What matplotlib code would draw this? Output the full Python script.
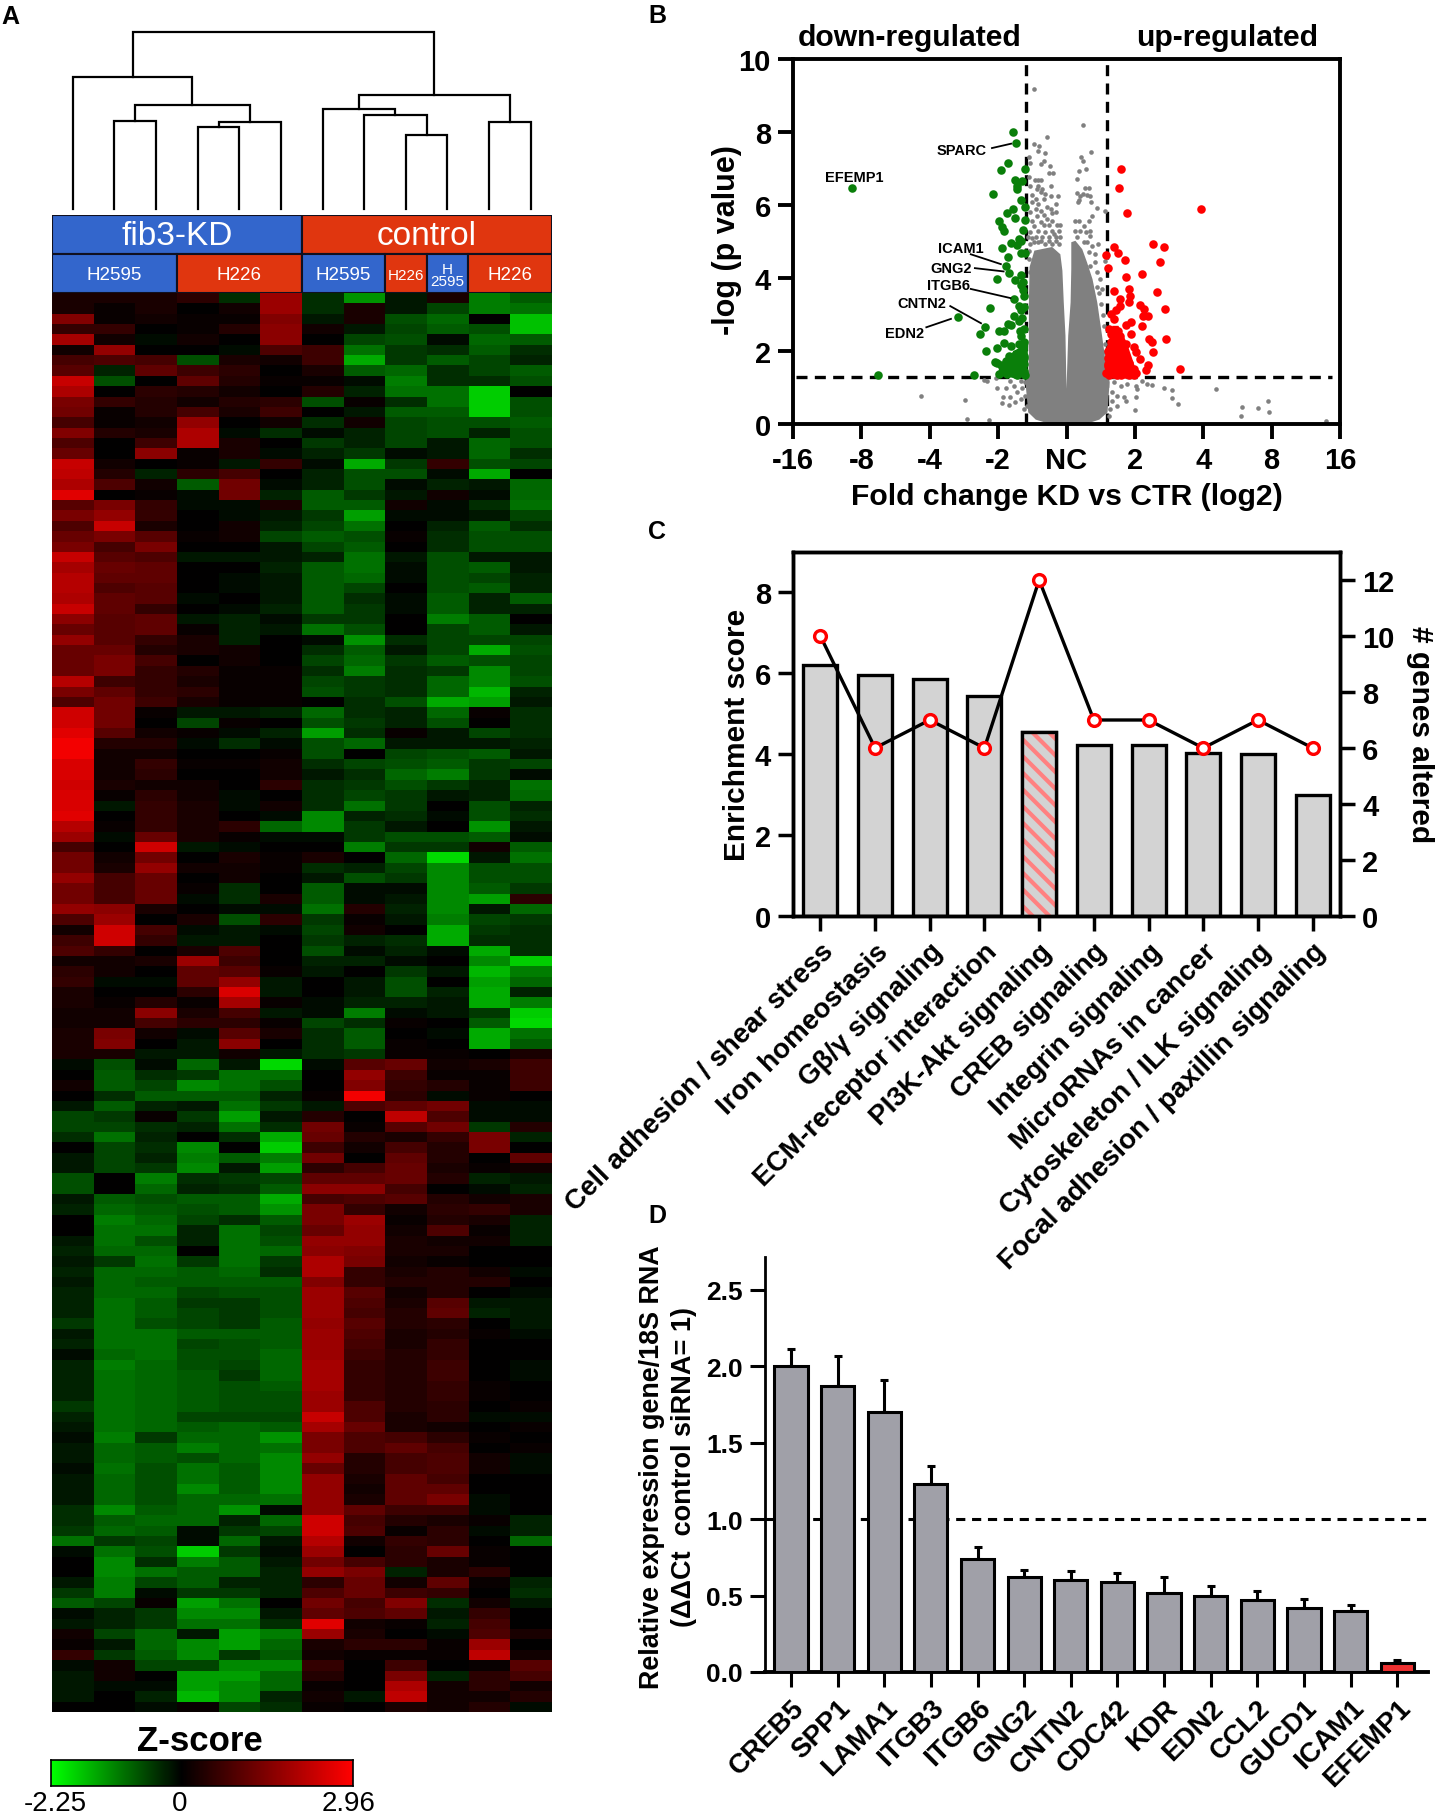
#!/usr/bin/env python3

import numpy as np
import matplotlib
matplotlib.use('Agg')
import matplotlib.pyplot as plt
from matplotlib.colors import LinearSegmentedColormap, TwoSlopeNorm

plt.rcParams['font.family'] = ['Liberation Sans', 'DejaVu Sans']
plt.rcParams['hatch.linewidth'] = 3.0

W, H = 1438, 1815

# ---- panel A data ----
# heatmap values, z-score x 10, one row per gene, read by eye
heat_rows = [
    [3,3,3,5,-4,18,-4,-13,-2,3,-11,-8],
    [3,1,3,0,2,18,-4,3,-2,-6,-11,-10],
    [15,1,2,1,1,15,-2,3,-7,-9,0,-17],
    [6,6,0,1,4,16,2,-2,-6,-8,-7,-17],
    [19,2,-1,2,0,16,0,-6,-7,-1,-9,-8],
    [2,17,0,0,-1,9,7,-10,-5,-4,-8,-4],
    [8,9,8,-7,3,2,7,-15,-5,-8,-6,-3],
    [10,-3,11,7,5,0,3,-8,-9,-4,-6,-8],
    [23,-7,0,11,4,1,1,-1,-11,-4,-4,-7],
    [20,0,5,4,2,0,4,-3,-10,-10,-18,0],
    [14,6,4,2,4,5,-7,1,-4,-10,-18,-7],
    [13,1,4,8,3,7,0,-2,-8,-8,-18,-7],
    [8,1,2,17,0,2,-4,2,-6,-7,-7,-8],
    [15,4,3,20,-1,-4,-1,-3,-6,-7,-3,-7],
    [9,0,7,20,3,0,-5,-3,-6,-2,-9,-7],
    [12,0,16,1,3,-1,-3,-5,-1,-2,-9,-4],
    [23,2,0,1,-2,6,-1,-15,-5,6,-7,-6],
    [22,4,-3,5,8,0,-3,-7,-7,-1,-15,0],
    [20,9,2,-8,13,-1,-3,-7,-1,-3,-2,-9],
    [26,0,1,-1,13,-3,-8,-5,-2,2,-1,-9],
    [10,14,6,-1,-1,3,-8,-8,2,-1,-4,-10],
    [14,17,6,0,-1,-2,-5,-14,-1,-1,-2,-6],
    [9,23,3,0,2,-3,-6,-10,0,-3,-8,-4],
    [12,14,10,1,2,-6,-8,-7,1,-4,-7,-7],
    [14,8,14,0,0,-2,-6,-8,0,-4,-7,-7],
    [23,10,9,-2,-2,-2,-3,-10,-2,-7,-2,-2],
    [19,12,11,0,0,-3,-8,-10,-1,-7,-8,-2],
    [21,11,11,0,-1,-2,-8,-9,-1,-7,-6,-3],
    [21,9,10,0,-1,-2,-8,-6,0,-7,-8,-3],
    [20,11,10,-1,0,-2,-8,-4,-1,-8,-3,-8],
    [23,11,6,0,-1,-3,-8,-5,-1,-8,-3,-3],
    [16,10,11,-2,-3,-1,-5,-5,0,-11,-8,0],
    [12,10,11,1,-3,-2,-10,-7,0,-6,-8,-2],
    [17,10,6,3,-3,0,-1,-13,-4,-6,-6,-6],
    [12,12,4,3,2,0,-4,-8,-2,-6,-15,-7],
    [12,14,8,0,2,0,-6,-9,-5,-8,-7,-6],
    [12,14,6,4,1,1,-4,-11,-4,-5,-12,-6],
    [21,7,6,3,1,1,-6,-5,-4,-9,-12,-7],
    [14,11,6,5,1,1,-7,-5,-4,-9,-16,-3],
    [9,13,7,3,1,1,0,-4,-7,-15,-14,-2],
    [24,13,1,-2,-2,-3,-9,-4,-3,-9,1,-4],
    [24,13,0,-6,1,0,-7,-5,-3,-7,0,-4],
    [26,10,2,1,-1,-3,-14,-4,1,-2,-6,-4],
    [28,4,4,-1,-4,-1,-7,-9,-2,-2,-2,-3],
    [28,2,2,0,0,1,-7,0,-6,-7,-8,-2],
    [25,2,6,1,1,2,-4,-6,-7,-8,-5,-6],
    [25,2,5,0,0,2,-2,-4,-9,-11,-5,-1],
    [24,3,2,2,0,5,-4,-5,-7,-5,-3,-10],
    [25,1,5,2,-1,0,-4,-6,-5,-2,-3,-9],
    [25,-2,6,3,-1,2,-4,-10,-5,0,-7,-3],
    [26,0,6,3,0,-1,-12,-3,-4,-1,-7,-4],
    [21,1,6,3,5,-9,-12,-5,-2,0,-13,-2],
    [18,-1,12,3,1,-1,-1,-5,-7,-7,-8,-1],
    [8,0,24,-2,-1,0,0,-11,-5,-5,2,-8],
    [13,2,13,0,3,1,3,0,-9,-19,-2,-10],
    [13,3,17,2,2,1,-4,-3,-6,-12,-7,-7],
    [17,8,12,0,2,0,-2,-7,-5,-12,-7,-7],
    [13,8,12,1,-4,0,-8,-1,-1,-12,-8,-5],
    [13,8,12,-1,-4,3,-8,-1,-2,-12,-14,5],
    [17,16,3,0,-1,-1,-10,4,-3,-12,-2,-9],
    [9,18,0,3,-7,5,-5,1,-2,-11,-6,-5],
    [2,24,8,-1,-2,-1,-6,2,0,-15,-5,-4],
    [7,24,6,-2,-2,0,-5,-3,-4,-15,-4,-4],
    [9,6,0,3,9,0,-7,-1,-3,-1,-15,-4],
    [2,2,3,18,7,0,-3,-3,-1,0,-12,-18],
    [5,2,0,11,10,1,-2,0,-5,-2,-16,-11],
    [6,-1,-1,11,17,-2,0,-2,-7,0,-14,-9],
    [3,0,0,5,25,-2,0,-2,-7,-3,-15,-3],
    [3,1,4,1,19,1,-1,-3,-3,-2,-15,-11],
    [2,2,16,3,8,-2,-1,-11,-1,-2,-5,-18],
    [2,2,8,5,5,1,-6,-4,1,0,-8,-19],
    [3,14,2,-1,10,3,-4,-8,0,-1,-15,-10],
    [3,15,0,-2,16,0,-4,-8,1,0,-15,-8],
    [3,3,-2,-2,2,-2,-4,-5,1,1,0,3],
    [-1,-7,-1,-9,-2,-19,-1,10,12,2,3,7],
    [0,-8,-4,-5,-10,-10,0,17,7,1,1,7],
    [2,-8,-6,-12,-10,-7,0,15,6,4,1,7],
    [0,-4,-8,-8,-8,-3,1,28,5,-1,1,0],
    [-2,-8,-3,-2,-10,-5,-2,9,11,13,-1,-1],
    [-6,-5,1,-5,-14,-2,4,0,22,9,-1,-1],
    [-6,-6,-4,-3,-10,-4,13,1,10,13,-5,4],
    [-4,-10,-3,0,-4,-15,12,4,3,6,14,-3],
    [0,-6,-4,-12,0,-18,7,2,8,4,14,0],
    [-2,-6,-3,-11,-8,-11,13,0,11,4,0,11],
    [-2,-6,-5,-12,-2,-14,5,8,12,3,1,2],
    [-7,0,-11,-4,-5,-6,11,11,12,4,-3,-2],
    [-7,0,-9,-3,-4,-8,16,16,8,0,-1,-3],
    [-2,-8,-7,-8,-8,-15,8,9,10,4,2,3],
    [-3,-9,-8,-7,-8,-13,14,6,2,5,6,3],
    [0,-11,-9,-6,-4,-8,14,18,1,4,3,-3],
    [0,-10,-10,-3,-10,-6,12,17,2,9,1,-3],
    [-2,-10,-7,-3,-10,-7,17,17,3,2,2,-3],
    [-3,-9,-9,0,-10,-9,16,15,3,3,0,0],
    [-2,-5,-10,-5,-10,-5,20,14,2,1,0,0],
    [-3,-9,-9,-8,-9,-4,20,6,3,4,2,-1],
    [-2,-9,-8,-8,-8,-8,15,6,4,4,4,0],
    [-3,-9,-9,-6,-7,-7,18,10,2,4,0,-1],
    [-3,-10,-8,-5,-5,-7,18,9,3,10,-2,-2],
    [-3,-10,-8,-6,-5,-7,18,8,4,11,-3,-2],
    [-5,-10,-7,-6,-5,-8,17,10,4,5,0,-2],
    [-2,-10,-10,-8,-8,-8,18,9,3,4,1,-1],
    [-3,-10,-10,-6,-7,-8,18,8,3,6,0,0],
    [-1,-9,-10,-7,-7,-9,18,7,4,6,0,0],
    [-3,-11,-9,-7,-6,-9,19,6,4,7,0,-1],
    [-3,-10,-9,-8,-5,-9,19,6,4,7,0,-1],
    [-3,-10,-9,-8,-7,-8,19,6,4,6,1,0],
    [-3,-10,-9,-8,-7,-7,18,6,4,6,1,0],
    [-5,-10,-9,-8,-7,-7,18,9,4,5,0,1],
    [-3,-10,-9,-6,-6,-6,23,9,3,5,-1,-1],
    [-2,-10,-9,-8,-9,-8,19,12,3,2,0,1],
    [-1,-11,-5,-9,-9,-13,14,9,8,5,1,0],
    [-2,-9,-8,-11,-9,-10,14,9,11,8,0,1],
    [-2,-9,-8,-7,-9,-12,17,4,8,9,2,-1],
    [-1,-10,-7,-10,-8,-12,12,4,8,9,2,-1],
    [-2,-9,-7,-10,-8,-12,17,3,11,8,0,0],
    [-2,-9,-7,-12,-8,-12,17,2,11,11,0,0],
    [-2,-9,-7,-9,-9,-10,17,3,11,14,-1,0],
    [-4,-12,-8,-9,-13,-1,17,11,7,7,-1,0],
    [-4,-8,-9,-9,-3,-9,24,8,4,3,1,-3],
    [-5,-9,-8,-1,-5,-6,24,9,1,5,-1,-3],
    [-10,-5,-6,-1,-9,-2,21,2,6,5,0,-9],
    [-1,-10,-7,-18,-5,-1,18,0,5,12,1,0],
    [0,-12,-4,-11,-8,-2,13,8,5,3,1,0],
    [0,-12,-10,-8,-8,-3,17,14,-3,3,5,0],
    [-2,-11,-6,-8,-3,-3,5,12,2,11,1,-3],
    [-5,-11,-1,-5,-5,-3,9,12,7,6,0,-4],
    [-8,-6,1,-14,-10,0,13,8,15,-4,2,-2],
    [-1,-3,-5,-12,-12,-2,11,9,11,-2,6,0],
    [-2,-3,-5,-10,-10,-4,26,2,1,-3,8,0],
    [2,-6,-9,-2,-14,-11,18,3,0,-1,9,3],
    [1,-2,-9,-12,-14,-9,3,5,5,1,18,0],
    [6,-5,-8,-12,-5,-8,2,1,1,1,22,2],
    [-1,2,-6,-6,-12,-12,6,0,7,0,1,10],
    [-2,2,0,-14,-14,-9,4,0,14,-3,5,8],
    [-2,-1,-1,-14,-12,-9,1,0,20,2,5,2],
    [-2,0,-3,-16,-12,-3,2,-2,22,2,2,4],
    [0,0,-1,1,-6,-4,1,0,3,2,4,-1],
]

# dendrogram merges: node ids 0-11 are leaves, merge k makes node 12+k
dendro_a = [1, 3, 13, 12, 0, 8, 7, 6, 10, 19, 16]
dendro_b = [2, 4, 5, 14, 15, 9, 17, 18, 11, 20, 21]
dendro_height = [229, 214, 225, 270, 344, 191, 244, 261, 225, 295, 462]

group_labels = ['fib3-KD', 'control']
group_start = [0, 6]
group_width = [6, 6]
group_colors = ['#3366cc', '#e0360f']

line_labels = ['H2595', 'H226', 'H2595', 'H226', 'H\n2595', 'H226']
line_start = [0, 3, 6, 8, 9, 10]
line_width = [3, 3, 2, 1, 1, 2]
line_colors = ['#3366cc', '#e0360f', '#3366cc', '#e0360f', '#3366cc', '#e0360f']
line_sizes = [13.5, 13.5, 13.5, 11, 11, 13.5]

z_min, z_max = -2.25, 2.96

# ---- panel B data ----
# x is the axis position: 0 = NC, +-1 = 2 fold, +-2 = 4 fold, +-3 = 8, +-4 = 16
volcano_xticks = [-4, -3, -2, -1, 0, 1, 2, 3, 4]
volcano_xlabels = ['-16', '-8', '-4', '-2', 'NC', '2', '4', '8', '16']

green_x = [-0.78,-0.74,-0.85,-0.96,-0.60,-0.75,-0.65,-0.73,-0.72,-1.07,-0.66,-0.78,-0.60,-0.87,-0.75,-0.60,
           -0.99,-0.94,-0.91,-0.64,-0.69,-0.81,-0.73,-0.95,-0.66,-0.67,-0.60,-0.86,-0.89,-0.84,-1.01,-0.76,
           -0.66,-0.66,-0.64,-0.77,-0.62,-1.12,-0.69,-0.66,-0.77,-1.59,-0.69,-1.19,-0.85,-0.81,-1.27,-0.99,
           -0.91,-0.66,-0.92,-1.01,-0.81,-0.64,-1.18,-0.66,-0.84,-0.72,-0.62,-0.77,-1.05,-1.01,-0.84,-0.69,
           -0.62,-0.92,-0.77,-0.66,-0.99,-0.87,-0.75,-0.62,-1.35,-2.76,-3.13,
           -0.92,-0.80,-0.70,-0.62,-0.96,-0.78,-0.65,-0.75,-0.62,-0.80,-0.70,-0.88,-0.62,-0.70,-0.62,-0.68,
           -0.65,-0.62,-0.63,-0.61,-0.73,-0.85]
green_y = [8.00,7.69,7.16,6.97,7.00,6.69,6.65,6.53,6.45,6.31,6.14,5.88,5.94,5.79,5.64,5.60,
           5.55,5.39,5.28,5.31,5.08,4.97,4.90,4.83,5.02,4.69,4.69,4.57,4.34,4.14,3.96,3.95,
           4.08,3.80,3.66,3.43,3.52,3.19,3.24,3.11,2.95,2.92,2.83,2.65,2.74,2.72,2.47,2.54,
           2.54,2.42,2.21,2.07,2.14,2.10,1.99,2.00,1.87,1.91,1.82,1.77,1.70,1.66,1.64,1.59,
           1.64,1.50,1.50,1.46,1.38,1.36,1.38,1.38,1.34,1.34,6.46,
           1.42,1.40,1.42,1.45,1.62,1.55,1.72,1.90,1.85,1.65,1.85,1.72,2.25,2.20,2.60,2.55,
           2.90,3.20,3.90,1.35,1.34,1.50]
green_cloud_x = [-1.00,-0.58,-0.56,-0.78,-0.82,-0.98]
green_cloud_y = [1.33,1.35,2.20,2.00,1.78,1.65]

red_x = [0.79,0.77,0.88,1.96,1.27,1.43,0.70,0.58,0.76,0.86,0.60,1.11,0.87,1.37,0.91,0.69,1.32,0.93,0.78,0.91,
         1.08,0.78,1.13,1.44,0.72,0.65,1.12,1.19,0.69,0.94,0.87,1.10,0.62,0.76,0.95,0.65,1.21,1.25,1.45,0.87,
         0.76,0.99,0.69,1.27,1.02,0.84,0.65,1.08,0.76,0.61,0.91,1.19,0.99,1.17,1.66,0.69,0.84,1.02,0.58,
         0.62,0.68,0.74,0.80,0.86,0.92,0.98,0.62,0.68,0.74,0.80,0.86,0.92,0.62,0.68,0.74,0.80,0.86,
         0.62,0.68,0.74,0.80,0.63,0.69,0.75,0.81,0.65,0.71,0.77,0.66,0.72,0.78,0.60,0.60,0.60]
red_y = [7.00,6.46,5.77,5.90,4.93,4.84,4.86,4.62,4.69,4.49,4.28,4.12,4.03,4.44,3.70,3.64,3.62,3.52,3.43,3.35,
         3.27,3.24,3.15,3.16,3.11,3.01,2.95,2.95,2.88,2.80,2.72,2.69,2.60,2.55,2.46,2.46,2.33,2.26,2.33,2.19,
         2.28,2.10,2.10,1.96,1.96,1.91,1.91,1.79,1.73,1.64,1.68,1.61,1.50,1.48,1.50,1.45,1.45,1.41,1.41,
         1.35,1.36,1.35,1.34,1.36,1.35,1.34,1.52,1.54,1.52,1.55,1.53,1.58,1.70,1.72,1.71,1.74,1.70,
         1.90,1.92,1.88,1.93,2.08,2.12,2.06,2.10,2.25,2.30,2.24,2.45,2.48,2.42,1.80,1.60,2.00]
red_cloud_x = [0.60,1.03,0.88,0.76,0.67,0.61]
red_cloud_y = [1.37,1.41,2.24,2.69,2.69,2.05]

# single grey genes that can be told apart
grey_points = [
    (-0.47,9.19),(-0.29,7.85),(0.24,8.19),(-0.48,7.67),(-0.40,7.63),(-0.42,7.47),(-0.32,7.42),(-0.55,7.32),
    (0.21,7.32),(0.36,7.46),(0.24,7.21),(-0.33,7.21),(-0.37,7.12),(-0.54,7.15),(-0.24,7.08),(0.29,7.00),
    (0.18,6.93),(-0.26,6.89),(-0.20,6.89),(-0.55,6.76),(-0.46,6.69),(-0.42,6.69),(-0.37,6.69),(0.15,6.71),
    (-0.54,6.53),(-0.41,6.53),(-0.22,6.53),(-0.43,6.45),(-0.36,6.45),(0.27,6.46),(0.33,6.46),(-0.38,6.35),
    (0.16,6.32),(0.24,6.30),(0.30,6.27),(-0.50,6.27),(-0.31,6.30),(-0.13,6.24),(0.20,6.25),(0.34,6.24),
    (0.19,6.15),(0.17,6.07),(-0.45,6.16),(-0.33,6.16),(-0.22,6.24),(-0.51,6.07),(-0.41,6.03),(-0.16,6.03),
    (0.36,6.07),(-0.28,5.94),(-0.45,5.89),(-0.23,5.89),(-0.38,5.84),(0.44,5.91),(-0.53,5.80),(-0.21,5.78),
    (-0.33,5.73),(-0.16,5.80),(-0.43,5.69),(0.57,5.84),(0.38,5.69),(-0.50,5.57),(-0.28,5.62),(-0.38,5.53),
    (-0.21,5.57),(0.12,5.55),(0.18,5.55),(0.33,5.57),(-0.14,5.46),(-0.09,5.46),(-0.48,5.43),(-0.33,5.46),
    (-0.26,5.44),(0.26,5.43),(-0.53,5.25),(-0.41,5.30),(-0.31,5.25),(-0.21,5.30),(-0.11,5.30),(0.13,5.30),
    (0.20,5.30),(0.29,5.27),(0.35,5.30),(-0.57,5.11),(-0.45,5.11),(-0.36,5.11),(-0.26,5.11),(-0.16,5.11),
    (-0.09,5.11),(0.34,5.14),(-0.53,4.93),(-0.41,4.98),(-0.31,4.93),(-0.21,4.93),(-0.11,4.93),(0.30,4.98),
    (0.46,4.93),(0.37,4.89),(-0.55,4.75),(0.33,4.70),(0.42,4.66),(0.57,4.61),(0.57,4.47),(0.42,4.43),
    (0.35,4.34),(-0.55,4.52),(-0.53,4.16),(0.45,4.16),(0.49,3.97),
    (-0.47,5.00),(-0.37,5.02),(-0.25,5.02),(-0.15,5.02),(0.16,5.12),(0.25,5.00),(-0.50,5.10),(-0.19,5.20),
    (0.52,3.70),(0.50,3.30),(0.55,2.69),(0.57,1.96),(0.48,3.60),(0.44,3.75),(0.56,2.20),(0.54,3.00),
    (-1.20,1.21),(-1.01,1.00),(-0.89,1.00),(-0.93,0.73),(-0.82,0.73),(-0.94,0.57),(-0.84,0.52),(-0.77,1.05),
    (-0.72,0.87),(-0.67,0.68),(-0.62,0.41),(-0.75,0.59),(-0.82,1.19),(-0.67,1.19),(-0.60,1.14),(-0.65,1.00),
    (-0.60,0.78),(-0.58,0.50),(-1.14,0.12),(-2.13,0.78),(-1.48,0.65),(-1.46,0.15),(-1.16,1.18),(-1.03,1.27),
    (0.69,1.14),(0.79,1.05),(0.89,1.10),(1.01,1.05),(0.67,0.87),(0.74,0.78),(0.84,0.73),(1.03,0.96),
    (0.87,0.64),(1.01,0.73),(0.67,0.64),(0.74,0.50),(0.64,0.41),(0.62,0.23),(1.18,1.10),(0.69,1.32),
    (2.19,0.97),(1.43,0.99),(1.25,1.06),(1.54,0.93),(1.54,0.70),(1.63,0.55),(1.00,0.37),(2.57,0.47),
    (2.55,0.22),(2.80,0.44),(2.94,0.63),(2.96,0.33),(3.80,0.09),(1.10,1.18),
]

# outline of the part of the grey cloud that is too dense to read point by point
cloud_x = [-0.54,-0.47,-0.21,-0.09,-0.06,-0.04,-0.015,0.00,0.025,0.06,0.07,0.07,0.13,0.23,0.30,0.38,0.45,0.52,
           0.58,0.63,0.60,0.48,0.30,-0.26,-0.45,-0.56,-0.60,-0.55,-0.55,-0.55]
cloud_y = [4.30,4.75,4.85,4.65,4.20,3.33,2.42,0.96,2.42,3.33,4.25,4.98,5.02,4.79,4.43,3.97,3.33,2.42,
           1.60,1.14,0.32,0.12,0.01,0.01,0.12,0.32,1.14,1.51,2.42,3.33]

gene_names = ['SPARC', 'EFEMP1', 'ICAM1', 'GNG2', 'ITGB6', 'CNTN2', 'EDN2']
gene_text_x = [-1.53, -3.11, -1.54, -1.69, -1.72, -2.11, -2.37]
gene_text_y = [7.50, 6.76, 4.81, 4.28, 3.81, 3.31, 2.50]
leader_x0 = [-1.09, None, -1.40, -1.34, -1.40, -1.70, -2.05]
leader_y0 = [7.56, None, 4.65, 4.27, 3.70, 3.23, 2.65]
leader_x1 = [-0.81, None, -0.96, -0.92, -0.82, -1.25, -1.69]
leader_y1 = [7.68, None, 4.38, 4.18, 3.45, 2.76, 2.88]

# ---- panel C data ----
pathways = ['Cell adhesion / shear stress', 'Iron homeostasis', 'G\u03b2/\u03b3 signaling',
            'ECM-receptor interaction', 'PI3K-Akt signaling', 'CREB signaling', 'Integrin signaling',
            'MicroRNAs in cancer', 'Cytoskeleton / ILK signaling', 'Focal adhesion / paxillin signaling']
enrichment = [6.2, 5.95, 5.87, 5.43, 4.55, 4.22, 4.22, 4.03, 4.0, 3.0]
genes_altered = [10, 6, 7, 6, 12, 7, 7, 6, 7, 6]

# ---- panel D data ----
qpcr_genes = ['CREB5', 'SPP1', 'LAMA1', 'ITGB3', 'ITGB6', 'GNG2', 'CNTN2', 'CDC42', 'KDR', 'EDN2',
              'CCL2', 'GUCD1', 'ICAM1', 'EFEMP1']
qpcr_mean = [2.0, 1.87, 1.70, 1.23, 0.74, 0.62, 0.60, 0.59, 0.52, 0.50, 0.47, 0.42, 0.40, 0.06]
qpcr_top = [2.11, 2.07, 1.91, 1.35, 0.82, 0.67, 0.66, 0.65, 0.62, 0.56, 0.53, 0.48, 0.44, 0.08]
qpcr_colors = ['#a0a0a8'] * 13 + ['#ee3030']


def axes_px(fig, left, top, right, bottom):
    return fig.add_axes([left / W, 1 - bottom / H, (right - left) / W, (bottom - top) / H])


def text_px(fig, x, y, s, **kw):
    fig.text(x / W, 1 - y / H, s, ha=kw.pop('ha', 'center'), va=kw.pop('va', 'center'), **kw)


fig = plt.figure(figsize=(W / 100, H / 100), dpi=100)

# panel letters
for letter, x, y in [('A', 10, 17), ('B', 657, 16), ('C', 657, 532), ('D', 657, 1216)]:
    text_px(fig, x, y, letter, fontsize=18, fontweight='bold')

# ---------- A: dendrogram ----------
ax_den = axes_px(fig, 52, 32.5, 551.5, 209.5)
pos = {i: i for i in range(12)}
top = {i: 0 for i in range(12)}
for k in range(len(dendro_a)):
    a, b, h = dendro_a[k], dendro_b[k], dendro_height[k]
    ax_den.plot([pos[a], pos[a], pos[b], pos[b]], [top[a], h, h, top[b]], color='black', lw=1.6,
                solid_joinstyle='miter', clip_on=False)
    pos[12 + k] = (pos[a] + pos[b]) / 2
    top[12 + k] = h
ax_den.set_xlim(-0.5, 11.5)
ax_den.set_ylim(0, 462)
ax_den.axis('off')

# ---------- A: header bars ----------
ax_head = axes_px(fig, 52, 216, 551.5, 294)
ax_head.bar(group_start, [1] * 2, width=group_width, bottom=1, align='edge', color=group_colors,
            edgecolor='#101020', linewidth=1.5)
ax_head.bar(line_start, [1] * 6, width=line_width, bottom=0, align='edge', color=line_colors,
            edgecolor='#101020', linewidth=1.5)
for i, label in enumerate(group_labels):
    ax_head.text(group_start[i] + group_width[i] / 2, 1.47, label, color='white', fontsize=24,
                 ha='center', va='center')
for i, label in enumerate(line_labels):
    ax_head.text(line_start[i] + line_width[i] / 2, 0.47, label, color='white', fontsize=line_sizes[i],
                 ha='center', va='center', linespacing=0.8)
ax_head.set_xlim(0, 12)
ax_head.set_ylim(0, 2)
ax_head.axis('off')

# ---------- A: heatmap ----------
cmap = LinearSegmentedColormap.from_list('gbr', ['#00ff00', '#000000', '#ff0000'])
norm = TwoSlopeNorm(vmin=z_min, vcenter=0, vmax=z_max)
ax_heat = axes_px(fig, 52, 294, 551.5, 1713)
ax_heat.imshow(np.array(heat_rows) / 10.0, cmap=cmap, norm=norm, aspect='auto', interpolation='nearest')
ax_heat.axis('off')

# colour key
text_px(fig, 200, 1742, 'Z-score', fontsize=25, fontweight='bold')
ax_key = axes_px(fig, 51, 1761, 353, 1787)
key = np.linspace(z_min, z_max, 300).reshape(1, -1)
ax_key.imshow(key, cmap=cmap, norm=norm, aspect='auto', extent=[z_min, z_max, 0, 1])
ax_key.set_xticks([])
ax_key.set_yticks([])
for s in ax_key.spines.values():
    s.set_linewidth(1.2)
text_px(fig, 55, 1804, '-2.25', fontsize=20)
text_px(fig, 180, 1804, '0', fontsize=20)
text_px(fig, 349, 1804, '2.96', fontsize=20)

# ---------- B: volcano ----------
ax_b = axes_px(fig, 793, 60, 1340, 425)
ax_b.axvline(-0.59, color='black', lw=2.4, ls=(0, (3.3, 2.2)), zorder=1)
ax_b.axvline(0.59, color='black', lw=2.4, ls=(0, (3.3, 2.2)), zorder=1)
ax_b.axhline(1.3, xmin=0.005, xmax=0.985, color='black', lw=2.4, ls=(0, (3.3, 2.2)), zorder=1)
ax_b.fill(cloud_x, cloud_y, color='#808080', lw=0, zorder=2)
ax_b.scatter([p[0] for p in grey_points], [p[1] for p in grey_points], s=11, color='#808080', lw=0, zorder=2)
ax_b.fill(green_cloud_x, green_cloud_y, color='#0a7f0a', lw=0, zorder=3)
ax_b.fill(red_cloud_x, red_cloud_y, color='#ff0000', lw=0, zorder=3)
ax_b.scatter(green_x, green_y, s=38, color='#0a7f0a', lw=0, zorder=3)
ax_b.scatter(red_x, red_y, s=38, color='#ff0000', lw=0, zorder=3)
for i, name in enumerate(gene_names):
    ax_b.text(gene_text_x[i], gene_text_y[i], name, fontsize=10.5, fontweight='bold', ha='center', va='center',
              zorder=5)
    if leader_x0[i] is not None:
        ax_b.plot([leader_x0[i], leader_x1[i]], [leader_y0[i], leader_y1[i]], color='black', lw=1.3, zorder=5)
ax_b.set_xlim(-4, 4)
ax_b.set_ylim(0, 10)
ax_b.set_xticks(volcano_xticks)
ax_b.set_xticklabels(volcano_xlabels)
ax_b.set_yticks([0, 2, 4, 6, 8, 10])
ax_b.tick_params(width=2.8, length=11, labelsize=21, pad=5)
for label in ax_b.get_xticklabels() + ax_b.get_yticklabels():
    label.set_fontweight('bold')
for s in ax_b.spines.values():
    s.set_linewidth(2.8)
text_px(fig, 910, 38, 'down-regulated', fontsize=21.7, fontweight='bold')
text_px(fig, 1227, 38, 'up-regulated', fontsize=21.7, fontweight='bold')
text_px(fig, 1067, 497, 'Fold change KD vs CTR (log2)', fontsize=21.7, fontweight='bold')
text_px(fig, 727, 240, '-log (p value)', fontsize=22, fontweight='bold', rotation=90)

# ---------- C: enrichment ----------
ax_c = axes_px(fig, 793, 553, 1340, 917)
x_c = np.arange(len(pathways))
bar_colors = ['#d3d3d3'] * len(pathways)
ax_c.bar(x_c, enrichment, width=0.62, color=bar_colors, edgecolor='black', linewidth=2.4, zorder=2)
ax_c.bar(x_c[4], enrichment[4], width=0.59, facecolor='#d3d3d3', edgecolor='#ff8080', hatch='\\\\', linewidth=0, zorder=3)
ax_c.bar(x_c[4], enrichment[4], width=0.62, facecolor='none', edgecolor='black', linewidth=2.4, zorder=4)
ax_c.set_xlim(-0.5, 9.5)
ax_c.set_ylim(0, 9)
ax_c.set_yticks([0, 2, 4, 6, 8])
ax_c.set_xticks(x_c)
ax_c.set_xticklabels(pathways, rotation=45, ha='right', rotation_mode='anchor', fontweight='bold')
ax_c.tick_params(width=2.5, length=11, labelsize=21, pad=5)
for label in ax_c.get_yticklabels():
    label.set_fontweight('bold')
for label in ax_c.get_xticklabels():
    label.set_fontsize(20)

ax_c2 = ax_c.twinx()
ax_c2.plot(x_c, genes_altered, color='black', lw=2.4, marker='o', ms=8.5, mfc='white', mec='#ff0000', mew=2.4,
           zorder=5)
ax_c2.set_ylim(0, 13)
ax_c2.set_yticks([0, 2, 4, 6, 8, 10, 12])
ax_c2.tick_params(width=2.5, length=11, labelsize=21, pad=5)
for label in ax_c2.get_yticklabels():
    label.set_fontweight('bold')
for axis in (ax_c, ax_c2):
    for s in axis.spines.values():
        s.set_linewidth(2.5)
text_px(fig, 737, 735, 'Enrichment score', fontsize=21.5, fontweight='bold', rotation=90)
text_px(fig, 1420, 735, '# genes altered', fontsize=21.5, fontweight='bold', rotation=270)

# ---------- D: qPCR ----------
ax_d = axes_px(fig, 765, 1258, 1428, 1673)
ax_d.patch.set_visible(False)
x_d = np.arange(len(qpcr_genes))
ax_d.axhline(1.0, color='black', lw=2.2, ls=(0, (3, 2.2)), zorder=1)
err_up = np.array(qpcr_top) - np.array(qpcr_mean)
ax_d.bar(x_d, qpcr_mean, width=0.71, color=qpcr_colors, edgecolor='black', linewidth=2.2, zorder=3)
ax_d.errorbar(x_d, qpcr_mean, yerr=[np.zeros(len(x_d)), err_up], fmt='none', ecolor='black', elinewidth=2.2,
              capsize=3, capthick=2.2, zorder=2)
ax_d.set_xlim(-0.557, 13.66)
ax_d.set_ylim(0, 2.715)
ax_d.set_yticks([0, 0.5, 1.0, 1.5, 2.0, 2.5])
ax_d.set_yticklabels(['0.0', '0.5', '1.0', '1.5', '2.0', '2.5'], fontweight='bold')
ax_d.set_xticks(x_d)
ax_d.set_xticklabels(qpcr_genes, rotation=45, ha='right', rotation_mode='anchor', fontweight='bold', fontsize=20)
ax_d.tick_params(axis='y', width=2.2, length=11, labelsize=19, pad=5)
ax_d.tick_params(axis='x', width=2.2, length=11, pad=5)
ax_d.spines['top'].set_visible(False)
ax_d.spines['right'].set_visible(False)
ax_d.spines['left'].set_linewidth(2.0)
ax_d.spines['bottom'].set_linewidth(2.8)
text_px(fig, 652, 1467, 'Relative expression gene/18S RNA', fontsize=19.4, fontweight='bold', rotation=90)
text_px(fig, 684, 1467, '(\u0394\u0394Ct  control siRNA= 1)', fontsize=19.5, fontweight='bold', rotation=90)

fig.savefig('out.png', dpi=100)
